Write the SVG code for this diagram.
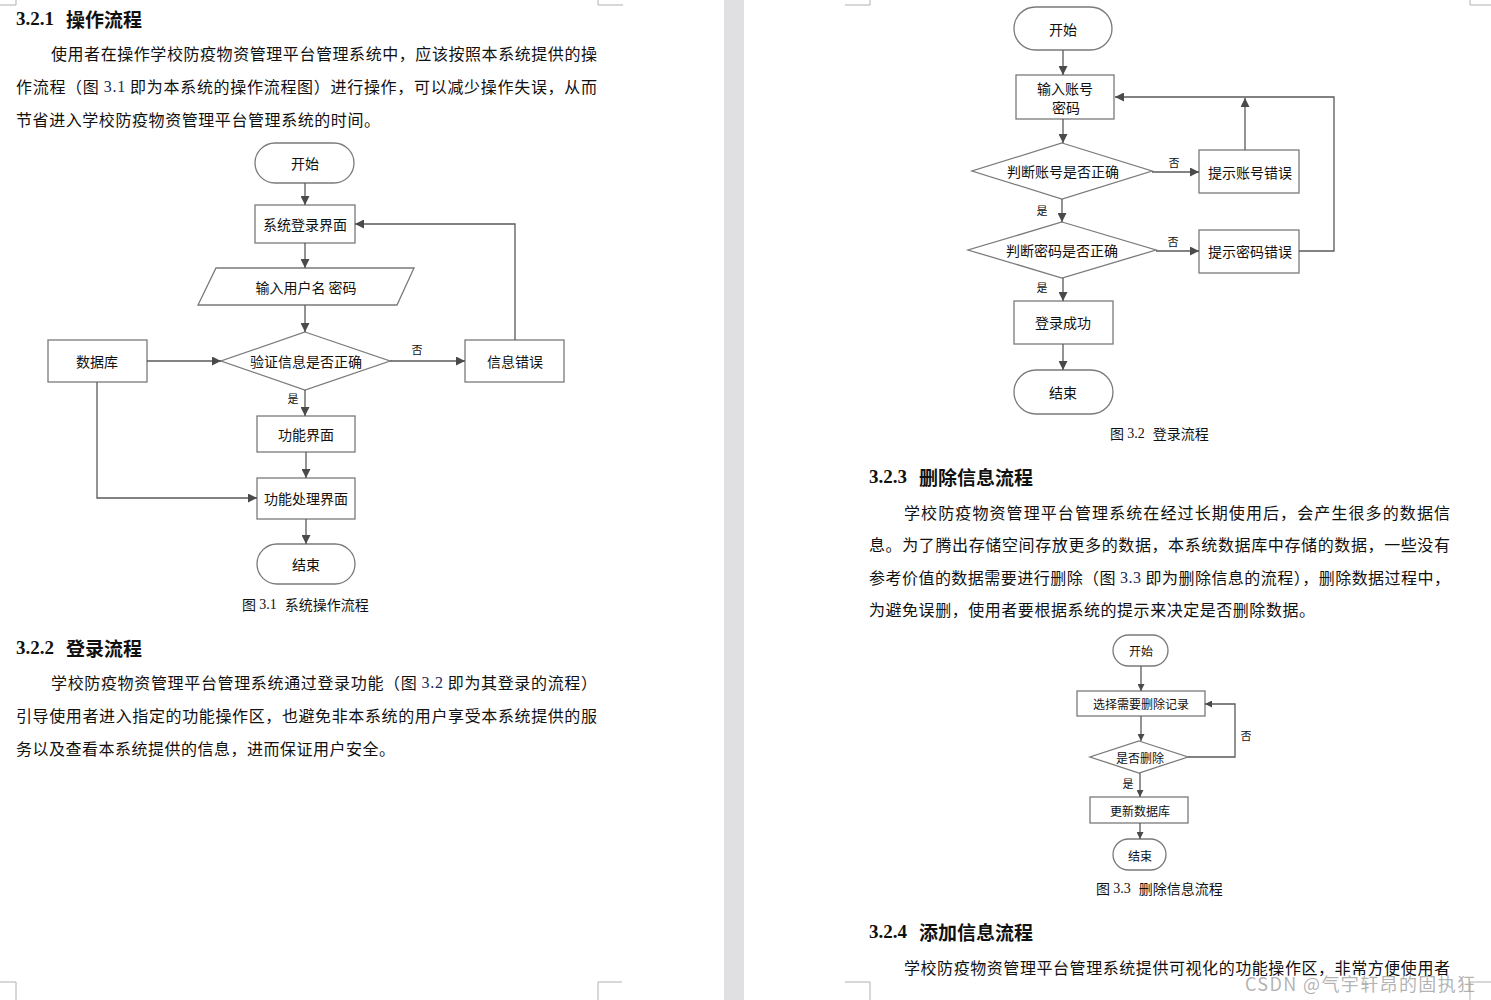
<svg xmlns="http://www.w3.org/2000/svg" width="1491" height="1000" viewBox="0 0 1491 1000">
<defs>
<style>
.bg{fill:#ffffff}
.box{fill:#ffffff;stroke:#7a7a7a;stroke-width:1.3}
.ln{fill:none;stroke:#5a5a5a;stroke-width:1.3}
.t{font-family:"Noto Sans CJK SC","Noto Sans",sans-serif;fill:#111;dominant-baseline:central;text-anchor:middle}
.f14{font-size:14px}
.f12{font-size:12px}
.lbl{font-size:11px}
.p{font-family:"Noto Sans CJK SC","Noto Sans",sans-serif;font-size:16px;fill:#111;dominant-baseline:central}
.num{font-family:"Liberation Serif",serif;fill:#1a2a5a}
.h{font-family:"Noto Sans CJK SC",sans-serif;font-size:19px;font-weight:bold;fill:#111;dominant-baseline:central}
.hn{font-family:"Liberation Serif",serif;font-size:19px;font-weight:bold;fill:#111;dominant-baseline:central}
.cap{font-family:"Noto Sans CJK SC",sans-serif;font-size:14px;fill:#111;dominant-baseline:central}
.mark{fill:none;stroke:#b0b0b0;stroke-width:1}
</style>
<marker id="ar" viewBox="0 0 10 10" refX="10" refY="5" markerWidth="9" markerHeight="9" markerUnits="userSpaceOnUse" orient="auto">
<path d="M0,0 L10,5 L0,10 z" fill="#4a4a4a"/>
</marker>
<marker id="ars" viewBox="0 0 10 10" refX="10" refY="5" markerWidth="7" markerHeight="7" markerUnits="userSpaceOnUse" orient="auto">
<path d="M0,0 L10,5 L0,10 z" fill="#4a4a4a"/>
</marker>
</defs>
<rect class="bg" x="0" y="0" width="1491" height="1000"/>
<rect x="724" y="0" width="20" height="1000" fill="#e0e0e2"/>

<g id="page-marks">
<path class="mark" d="M0,5 H16 V0"/>
<path class="mark" d="M623,5 H598 V0"/>
<path class="mark" d="M0,982 H16 V1000"/>
<path class="mark" d="M622,982 H598 V1000"/>
<path class="mark" d="M845,5 H870 V0"/>
<path class="mark" d="M1491,5 H1470 V0"/>
<path class="mark" d="M845,982 H870 V1000"/>
<path class="mark" d="M1491,982 H1470 V1000"/>
</g>

<g id="left-text">
<text x="16" y="18" class="hn">3.2.1</text>
<text x="66" y="18" class="h">操作流程</text>
<text x="51" y="53" class="p" textLength="546" lengthAdjust="spacing">使用者在操作学校防疫物资管理平台管理系统中，应该按照本系统提供的操</text>
<text x="16" y="86" class="p" textLength="581" lengthAdjust="spacing">作流程（图 <tspan class="num">3.1</tspan> 即为本系统的操作流程图）进行操作，可以减少操作失误，从而</text>
<text x="16" y="119" class="p" textLength="364" lengthAdjust="spacing">节省进入学校防疫物资管理平台管理系统的时间。</text>
<text x="16" y="647" class="hn">3.2.2</text>
<text x="66" y="647" class="h">登录流程</text>
<text x="51" y="682" class="p" textLength="546" lengthAdjust="spacing">学校防疫物资管理平台管理系统通过登录功能（图 <tspan class="num">3.2</tspan> 即为其登录的流程）</text>
<text x="16" y="715" class="p" textLength="581" lengthAdjust="spacing">引导使用者进入指定的功能操作区，也避免非本系统的用户享受本系统提供的服</text>
<text x="16" y="748" class="p" textLength="379" lengthAdjust="spacing">务以及查看本系统提供的信息，进而保证用户安全。</text>
</g>

<g id="fig31">
<g id="f1-start"><rect class="box" x="255" y="143" width="99" height="40" rx="20"/><text class="t f14" x="305" y="163">开始</text></g>
<g id="f1-login"><rect class="box" x="255" y="205" width="100" height="38"/><text class="t f14" x="305" y="224">系统登录界面</text></g>
<g id="f1-input"><polygon class="box" points="216,268 414,268 397,305 198,305"/><text class="t f14" x="306" y="287">输入用户名 密码</text></g>
<g id="f1-verify"><polygon class="box" points="305,332 390,361 305,390 221,361"/><text class="t f14" x="306" y="361">验证信息是否正确</text></g>
<g id="f1-db"><rect class="box" x="48" y="340" width="99" height="42"/><text class="t f14" x="97" y="361">数据库</text></g>
<g id="f1-err"><rect class="box" x="465" y="340" width="99" height="42"/><text class="t f14" x="515" y="361">信息错误</text></g>
<g id="f1-func"><rect class="box" x="257" y="416" width="98" height="36"/><text class="t f14" x="306" y="434">功能界面</text></g>
<g id="f1-proc"><rect class="box" x="257" y="478" width="98" height="41"/><text class="t f14" x="306" y="498">功能处理界面</text></g>
<g id="f1-end"><rect class="box" x="257" y="544" width="98" height="40" rx="20"/><text class="t f14" x="306" y="564">结束</text></g>
<g id="f1-connectors">
<path class="ln" d="M305,183 V205" marker-end="url(#ar)"/>
<path class="ln" d="M305,243 V268" marker-end="url(#ar)"/>
<path class="ln" d="M305,305 V332" marker-end="url(#ar)"/>
<path class="ln" d="M147,361 H221" marker-end="url(#ar)"/>
<path class="ln" d="M390,361 H465" marker-end="url(#ar)"/>
<path class="ln" d="M515,340 V224 H355" marker-end="url(#ar)"/>
<path class="ln" d="M305,390 V416" marker-end="url(#ar)"/>
<path class="ln" d="M306,452 V478" marker-end="url(#ar)"/>
<path class="ln" d="M97,382 V498 H257" marker-end="url(#ar)"/>
<path class="ln" d="M306,519 V544" marker-end="url(#ar)"/>
<text class="t lbl" x="417" y="349">否</text>
<text class="t lbl" x="293" y="398">是</text>
</g>
<text class="cap" x="242" y="604">图 <tspan font-family="Liberation Serif, serif">3.1</tspan><tspan dx="8">系统操作流程</tspan></text>
</g>

<g id="fig32">
<g id="f2-start"><rect class="box" x="1014" y="7" width="98" height="43" rx="21.5"/><text class="t f14" x="1063" y="29">开始</text></g>
<g id="f2-input"><rect class="box" x="1016" y="75" width="98" height="44"/><text class="t f14" x="1065" y="88">输入账号</text><text class="t f14" x="1066" y="107">密码</text></g>
<g id="f2-acc"><polygon class="box" points="1062,143 1152,171 1062,199 972,171"/><text class="t f14" x="1063" y="171">判断账号是否正确</text></g>
<g id="f2-accerr"><rect class="box" x="1199" y="150" width="100" height="43"/><text class="t f14" x="1250" y="172">提示账号错误</text></g>
<g id="f2-pwd"><polygon class="box" points="1062,222 1156,250 1062,278 968,250"/><text class="t f14" x="1062" y="250">判断密码是否正确</text></g>
<g id="f2-pwderr"><rect class="box" x="1199" y="230" width="100" height="43"/><text class="t f14" x="1250" y="251">提示密码错误</text></g>
<g id="f2-ok"><rect class="box" x="1014" y="301" width="99" height="43"/><text class="t f14" x="1063" y="322">登录成功</text></g>
<g id="f2-end"><rect class="box" x="1014" y="370" width="99" height="44" rx="22"/><text class="t f14" x="1063" y="392">结束</text></g>
<g id="f2-connectors">
<path class="ln" d="M1063,50 V75" marker-end="url(#ar)"/>
<path class="ln" d="M1063,119 V143" marker-end="url(#ar)"/>
<path class="ln" d="M1152,172 H1199" marker-end="url(#ar)"/>
<path class="ln" d="M1245,150 V98" marker-end="url(#ar)"/>
<path class="ln" d="M1299,251 H1334 V97 H1115" marker-end="url(#ar)"/>
<path class="ln" d="M1062,199 V222" marker-end="url(#ar)"/>
<path class="ln" d="M1156,251 H1199" marker-end="url(#ar)"/>
<path class="ln" d="M1063,278 V301" marker-end="url(#ar)"/>
<path class="ln" d="M1063,344 V370" marker-end="url(#ar)"/>
<text class="t lbl" x="1174" y="162">否</text>
<text class="t lbl" x="1173" y="241">否</text>
<text class="t lbl" x="1042" y="210">是</text>
<text class="t lbl" x="1042" y="287">是</text>
</g>
<text class="cap" x="1110" y="433">图 <tspan font-family="Liberation Serif, serif">3.2</tspan><tspan dx="8">登录流程</tspan></text>
</g>

<g id="right-text">
<text x="869" y="476" class="hn">3.2.3</text>
<text x="919" y="476" class="h">删除信息流程</text>
<text x="904" y="512" class="p" textLength="546" lengthAdjust="spacing">学校防疫物资管理平台管理系统在经过长期使用后，会产生很多的数据信</text>
<text x="869" y="544" class="p" textLength="581" lengthAdjust="spacing">息。为了腾出存储空间存放更多的数据，本系统数据库中存储的数据，一些没有</text>
<text x="869" y="577" class="p" textLength="581" lengthAdjust="spacing">参考价值的数据需要进行删除（图 <tspan class="num">3.3</tspan> 即为删除信息的流程），删除数据过程中，</text>
<text x="869" y="609" class="p" textLength="446" lengthAdjust="spacing">为避免误删，使用者要根据系统的提示来决定是否删除数据。</text>
<text x="869" y="931" class="hn">3.2.4</text>
<text x="919" y="931" class="h">添加信息流程</text>
<text x="904" y="967" class="p" textLength="546" lengthAdjust="spacing">学校防疫物资管理平台管理系统提供可视化的功能操作区，非常方便使用者</text>
</g>

<g id="fig33">
<g id="f3-start"><rect class="box" x="1113" y="635" width="55" height="31" rx="15.5"/><text class="t f12" x="1141" y="650">开始</text></g>
<g id="f3-select"><rect class="box" x="1077" y="691" width="128" height="25"/><text class="t f12" x="1141" y="703">选择需要删除记录</text></g>
<g id="f3-del"><polygon class="box" points="1139,741 1188,757 1139,773 1090,757"/><text class="t f12" x="1140" y="757">是否删除</text></g>
<g id="f3-update"><rect class="box" x="1090" y="797" width="98" height="26"/><text class="t f12" x="1140" y="810">更新数据库</text></g>
<g id="f3-end"><rect class="box" x="1113" y="839" width="53" height="31" rx="15.5"/><text class="t f12" x="1140" y="855">结束</text></g>
<g id="f3-connectors">
<path class="ln" d="M1141,666 V691" marker-end="url(#ars)"/>
<path class="ln" d="M1141,716 V741" marker-end="url(#ars)"/>
<path class="ln" d="M1188,757 H1235 V704 H1205" marker-end="url(#ars)"/>
<path class="ln" d="M1140,773 V797" marker-end="url(#ars)"/>
<path class="ln" d="M1140,823 V839" marker-end="url(#ars)"/>
<text class="t lbl" x="1246" y="735">否</text>
<text class="t lbl" x="1128" y="783">是</text>
</g>
<text class="cap" x="1096" y="888">图 <tspan font-family="Liberation Serif, serif">3.3</tspan><tspan dx="8">删除信息流程</tspan></text>
</g>

<text x="1245" y="983" font-family="Noto Sans CJK SC, sans-serif" font-size="18" fill="#9a9a9a" fill-opacity="0.75" dominant-baseline="central" textLength="230" lengthAdjust="spacing">CSDN @气宇轩昂的固执狂</text>
</svg>
